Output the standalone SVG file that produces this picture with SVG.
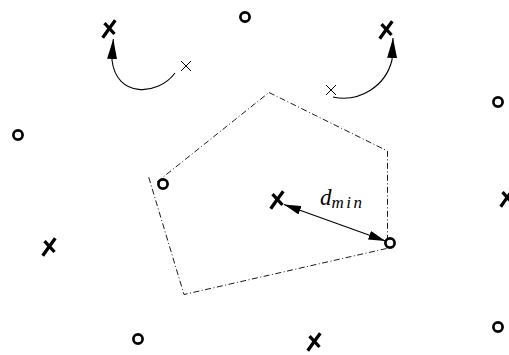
<svg xmlns="http://www.w3.org/2000/svg" xmlns:xlink="http://www.w3.org/1999/xlink" width="509" height="355" viewBox="0 0 509 355">
<style>
.o{fill:none;stroke:#000;stroke-width:2.7}
.bx{fill:none;stroke:#000;stroke-width:3.3}
.tx{fill:none;stroke:#000;stroke-width:1}
.poly{fill:none;stroke:#000;stroke-width:0.9;stroke-dasharray:6 2.5 1 2.5}
.con{fill:none;stroke:#000;stroke-width:1.1}
.lbl{font-family:"Liberation Serif","Times New Roman",serif;font-style:italic;fill:#000}
</style>
<defs>
<marker id="ah" markerUnits="userSpaceOnUse" viewBox="0 0 20 10" refX="20" refY="5" markerWidth="20" markerHeight="10" orient="auto-start-reverse">
<path d="M0,0 L20,5 L0,10 z" fill="#000"/>
</marker>
<marker id="ahs" markerUnits="userSpaceOnUse" viewBox="0 0 17 9" refX="17" refY="4.5" markerWidth="17" markerHeight="9" orient="auto-start-reverse">
<path d="M0,0 L17,4.5 L0,9 z" fill="#000"/>
</marker>
<g id="bigx"><path class="bx" d="M-6.3,8.8 Q-1,1 6.3,-8.8"/><path class="bx" d="M-4.5,-5.8 L5.5,5"/></g>
<g id="smx"><path class="tx" d="M-5,-5 L5,5 M-5,5 L5,-5"/></g>
</defs>
<g id="connectors">
<path class="poly" d="M269,92.5 L387.5,151 L387.5,238"/>
<path class="poly" d="M386.5,248.5 L184,294.5 L148.5,176.5"/>
<path class="poly" d="M157,182 L269,92.5"/>
<path class="con" d="M175,73 C158,96 116,98 112,60 L113.3,39" marker-end="url(#ah)"/>
<path class="con" d="M333,97 A50,50 0 0 0 392,60 L393,38" marker-end="url(#ah)"/>
<path class="con" d="M284,204.5 L385.5,241" marker-start="url(#ahs)" marker-end="url(#ahs)"/>
</g>
<g id="label-dmin"><text class="lbl" x="320" y="205" font-size="23">d<tspan font-size="17" dy="3" letter-spacing="2.5">min</tspan></text></g>
<g id="o1"><circle class="o" cx="245" cy="17" r="4.6"/></g>
<g id="o2"><circle class="o" cx="498" cy="102" r="4.6"/></g>
<g id="o3"><circle class="o" cx="18" cy="135" r="4.6"/></g>
<g id="o4"><circle class="o" cx="163" cy="184" r="4.6"/></g>
<g id="o5"><circle class="o" cx="390" cy="243" r="4.6"/></g>
<g id="o6"><circle class="o" cx="138" cy="339" r="4.6"/></g>
<g id="o7"><circle class="o" cx="498" cy="327" r="4.6"/></g>
<g id="x1"><use xlink:href="#bigx" href="#bigx" x="109" y="29"/></g>
<g id="x2"><use xlink:href="#bigx" href="#bigx" x="386" y="30"/></g>
<g id="x3"><use xlink:href="#bigx" href="#bigx" x="277" y="200"/></g>
<g id="x4"><use xlink:href="#bigx" href="#bigx" x="49" y="247"/></g>
<g id="x5"><use xlink:href="#bigx" href="#bigx" x="507" y="198"/></g>
<g id="x6"><use xlink:href="#bigx" href="#bigx" x="314" y="342"/></g>
<g id="sx1"><use xlink:href="#smx" href="#smx" x="186" y="66"/></g>
<g id="sx2"><use xlink:href="#smx" href="#smx" x="331" y="90"/></g>
</svg>
